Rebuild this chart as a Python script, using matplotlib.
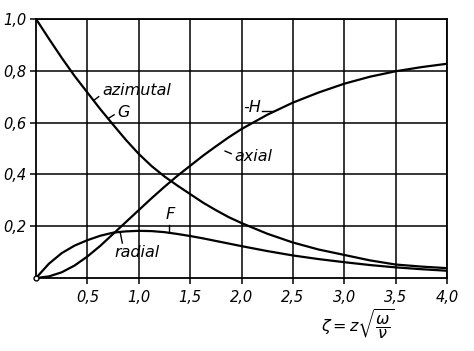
import matplotlib.pyplot as plt

# values
zeta = [0, 0.125, 0.25, 0.375, 0.5, 0.625, 0.75, 0.875, 1.0, 1.125, 1.25,
        1.375, 1.5, 1.625, 1.75, 1.875, 2.0, 2.25, 2.5, 2.75,
        3.0, 3.25, 3.5, 3.75, 4.0]
F = [0, 0.055, 0.096, 0.125, 0.146, 0.163, 0.175, 0.180, 0.182, 0.181, 0.177,
     0.170, 0.162, 0.153, 0.143, 0.133, 0.123, 0.104, 0.087, 0.073,
     0.061, 0.050, 0.041, 0.034, 0.028]
G = [1.0, 0.924, 0.85, 0.78, 0.716, 0.652, 0.592, 0.533, 0.479, 0.432, 0.392,
     0.357, 0.324, 0.291, 0.262, 0.235, 0.212, 0.171, 0.137, 0.11,
     0.089, 0.068, 0.052, 0.044, 0.038]
H = [0, 0.006, 0.022, 0.048, 0.083, 0.124, 0.17, 0.216, 0.262, 0.308, 0.352,
     0.394, 0.433, 0.472, 0.508, 0.543, 0.575, 0.63, 0.677, 0.716,
     0.75, 0.777, 0.798, 0.814, 0.827]

xticks = [0.5, 1.0, 1.5, 2.0, 2.5, 3.0, 3.5, 4.0]
xlabels = ["0,5", "1,0", "1,5", "2,0", "2,5", "3,0", "3,5", "4,0"]
yticks = [0.2, 0.4, 0.6, 0.8, 1.0]
ylabels = ["0,2", "0,4", "0,6", "0,8", "1,0"]

plt.rcParams["font.family"] = "DejaVu Sans"
plt.rcParams["font.style"] = "italic"

fig = plt.figure(figsize=(4.74, 3.51), dpi=100)
ax = fig.add_axes([0.076, 0.208, 0.867, 0.738])

for serie in (G, F, H):
    ax.plot(zeta, serie, color="black", lw=1.6, solid_capstyle="round",
            solid_joinstyle="round")
ax.plot([0], [0], "o", ms=3.5, mfc="white", mec="black", mew=1, zorder=5,
        clip_on=False)

ax.set_xlim(0, 4.0)
ax.set_ylim(0, 1.0)
ax.set_xticks(xticks)
ax.set_xticklabels(xlabels, fontsize=10.5, style="italic")
ax.set_yticks(yticks)
ax.set_yticklabels(ylabels, fontsize=10.5, style="italic")
ax.tick_params(direction="out", length=4, width=1.1, color="black", pad=3)
ax.tick_params(axis="x", pad=5)
ax.grid(True, color="black", lw=1.1)
for s in ax.spines.values():
    s.set_linewidth(1.3)

# etiquetas sobre las curvas
ax.text(0.98, 0.725, "azimutal", fontsize=11.5, ha="center", va="center")
ax.plot([0.56, 0.61], [0.685, 0.70], color="black", lw=1)
ax.text(0.85, 0.638, "G", fontsize=11.5, ha="center", va="center")
ax.plot([0.70, 0.76], [0.615, 0.63], color="black", lw=1)
ax.text(2.1, 0.66, "-H", fontsize=11.5, ha="center", va="center")
ax.plot([2.2, 2.31], [0.645, 0.645], color="black", lw=1)
ax.text(2.12, 0.47, "axial", fontsize=11.5, ha="center", va="center")
ax.plot([1.84, 1.9], [0.49, 0.48], color="black", lw=1)
ax.text(1.31, 0.245, "F", fontsize=11.5, ha="center", va="center")
ax.plot([1.29, 1.29], [0.178, 0.205], color="black", lw=1)
ax.text(0.98, 0.1, "radial", fontsize=11.5, ha="center", va="center")
ax.plot([0.84, 0.82], [0.135, 0.175], color="black", lw=1)

fig.text(0.755, 0.075, r"$\zeta = z\sqrt{\dfrac{\omega}{\nu}}$", fontsize=11.5,
         ha="center", va="center")

fig.savefig("out.png", dpi=100)
